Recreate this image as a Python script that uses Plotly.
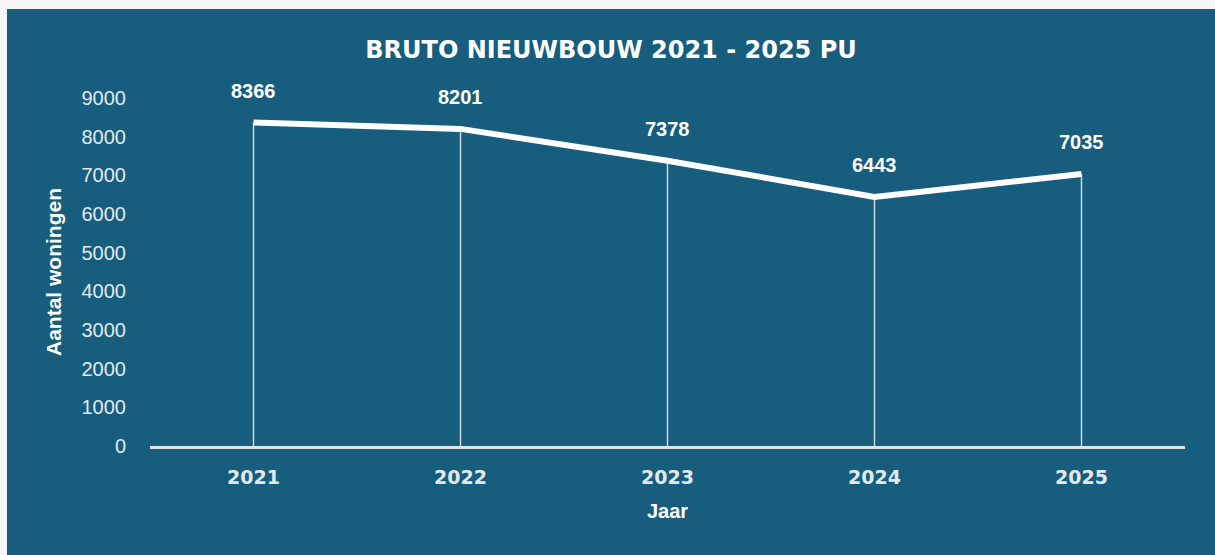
import plotly.graph_objects as go

years = ["2021", "2022", "2023", "2024", "2025"]
values = [8366, 8201, 7378, 6443, 7035]
y_ticks = [0, 1000, 2000, 3000, 4000, 5000, 6000, 7000, 8000, 9000]

BLUE = "#165d7e"
WHITE = "#ffffff"
SOFT = "#e1e9ee"

W, H = 1208, 546
L, R, T, B = 143, 30, 89, 109

fig = go.Figure()
fig.add_trace(go.Scatter(
    x=years, y=values, mode="lines",
    line=dict(color=WHITE, width=6),
    error_y=dict(type="data", symmetric=False, array=[0] * len(values),
                 arrayminus=values, color="rgba(255,255,255,0.8)",
                 thickness=1.4, width=0),
    cliponaxis=False, showlegend=False, hoverinfo="x+y",
))

for i, v in enumerate(values):
    fig.add_annotation(x=i, y=v, xref="x", yref="y", text=f"<b>{v}</b>",
                       showarrow=False, yshift=32,
                       font=dict(family="Liberation Sans", size=20, color=WHITE))

fig.update_layout(
    width=W, height=H,
    margin=dict(l=L, r=R, t=T, b=B),
    paper_bgcolor=BLUE, plot_bgcolor=BLUE,
    title=dict(text="<b>BRUTO NIEUWBOUW 2021 - 2025 PU</b>", x=0.5, xref="container",
               xanchor="center", y=1 - 41 / H, yanchor="middle",
               font=dict(family="DejaVu Sans", size=24, color=WHITE)),
    xaxis=dict(type="category", range=[-0.5, 4.5], showgrid=False, zeroline=False,
               showline=True, linecolor="#dbe5eb", linewidth=3, ticks="",
               tickfont=dict(family="DejaVu Sans", size=19, color=SOFT, weight="bold"),
               ticklabelstandoff=12,
               title=dict(text="<b>Jaar</b>", standoff=18,
                          font=dict(family="Liberation Sans", size=20, color=WHITE))),
    yaxis=dict(range=[0, 9000], tickvals=y_ticks, showgrid=False, zeroline=False,
               showline=False, ticks="",
               tickfont=dict(family="Liberation Sans", size=20, color=SOFT),
               ticklabelstandoff=23,
               title=dict(text="<b>Aantal woningen</b>", standoff=14,
                          font=dict(family="Liberation Sans", size=21, color=WHITE))),
)

post = ("document.body.style.margin='0';"
        "document.body.style.padding='9px 0 0 7px';"
        "document.body.style.background='#f6f6f6';"
        "document.documentElement.style.overflow='hidden';")
fig.write_html("out.html", post_script=post)
